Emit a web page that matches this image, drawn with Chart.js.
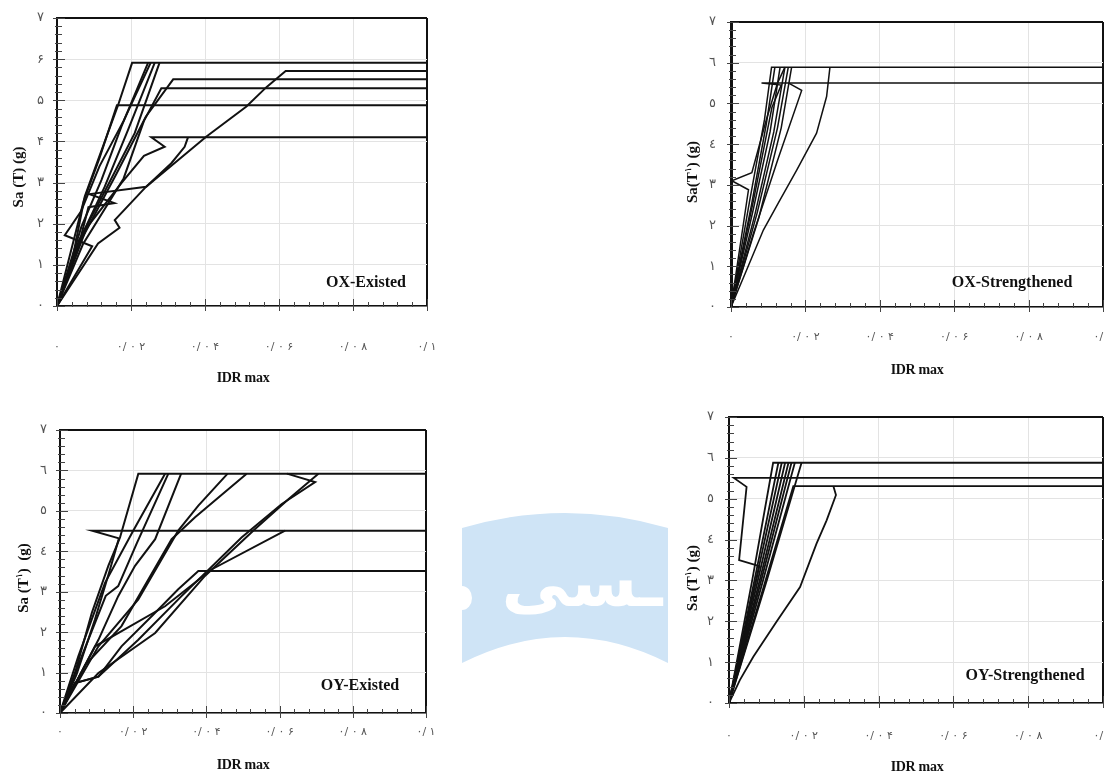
<!DOCTYPE html>
<html lang="fa">
<head>
<meta charset="UTF-8">
<title>IDA - Sa / IDR max</title>
<script src="https://cdn.jsdelivr.net/npm/chart.js"></script>
<style>
  body { margin: 0; background: #fff; width: 1104px; height: 775px; position: relative; overflow: hidden; font-family: 'Liberation Serif', 'Times New Roman', serif; }
  canvas { position: absolute; }
  .marca { position: absolute; left: 0; top: 0; }
  .rotulo { position: absolute; font-weight: bold; font-size: 16px; color: #111; white-space: nowrap; transform: translate(-50%, -50%); }
  .tituloX { position: absolute; font-weight: bold; font-size: 14px; color: #111; white-space: nowrap; transform: translate(-50%, -50%); letter-spacing: -0.3px; }
  .tituloY { position: absolute; font-weight: bold; font-size: 15px; color: #111; white-space: nowrap; transform: translate(-50%, -50%) rotate(-90deg); }
  .tituloY sup { font-size: 9px; }
</style>
</head>
<body>

<svg class="marca" width="1104" height="775">
  <path d="M462,528 Q565,498 668,528 L668,663 Q565,611 462,663 Z" fill="#cfe4f6"/>
  <ellipse cx="462" cy="598" rx="10" ry="12" fill="#fff"/>
  <text x="582" y="606" font-size="68" font-weight="bold" fill="#fff" text-anchor="middle" font-family="DejaVu Sans">ـسی</text>
</svg>

<canvas id="oxExisted" width="440" height="395" style="left:0;top:0"></canvas>
<canvas id="oxStrengthened" width="444" height="390" style="left:660px;top:0"></canvas>
<canvas id="oyExisted" width="440" height="375" style="left:0;top:400px"></canvas>
<canvas id="oyStrengthened" width="444" height="375" style="left:660px;top:400px"></canvas>

<div class="rotulo" style="left:366px;top:282px">OX-Existed</div>
<div class="rotulo" style="left:1012px;top:282px">OX-Strengthened</div>
<div class="rotulo" style="left:360px;top:685px">OY-Existed</div>
<div class="rotulo" style="left:1025px;top:675px">OY-Strengthened</div>

<div class="tituloX" style="left:243px;top:378px">IDR max</div>
<div class="tituloX" style="left:917px;top:370px">IDR max</div>
<div class="tituloX" style="left:243px;top:765px">IDR max</div>
<div class="tituloX" style="left:917px;top:767px">IDR max</div>

<div class="tituloY" style="left:18px;top:177px">Sa (T) (g)</div>
<div class="tituloY" style="left:692px;top:172px">Sa(T<sup>١</sup>) (g)</div>
<div class="tituloY" style="left:23px;top:578px">Sa (T<sup>١</sup>)&nbsp; (g)</div>
<div class="tituloY" style="left:692px;top:578px">Sa (T<sup>١</sup>) (g)</div>

<script>
// eixos
const idrTicks = [0, 0.02, 0.04, 0.06, 0.08, 0.1];
const saTicks = [0, 1, 2, 3, 4, 5, 6, 7];
const xTickLabels = ['۰', '۰/ ۰ ۲', '۰/ ۰ ۴', '۰/ ۰ ۶', '۰/ ۰ ۸', '۰/ ۱'];
const yTicksFa = ['۰', '۱', '۲', '۳', '۴', '۵', '۶', '۷'];
const yTicksAr = ['٠', '١', '٢', '٣', '٤', '٥', '٦', '٧'];

// OX - Existed
const oxExistedIdr = [
    [0, 0.0034, 0.0075, 0.0111, 0.0165, 0.0203, 0.1],
    [0, 0.0072, 0.0115, 0.0162, 0.1],
    [0, 0.0066, 0.012, 0.0174, 0.0246],
    [0, 0.0057, 0.0129, 0.0192, 0.0264],
    [0, 0.006, 0.013, 0.021, 0.0277],
    [0, 0.0065, 0.016, 0.024, 0.0305, 0.0314, 0.1],
    [0, 0.007, 0.018, 0.0235, 0.0282, 0.1],
    [0, 0.008, 0.0175, 0.0235, 0.0291, 0.0255, 0.1],
    [0, 0.0065, 0.0085, 0.0155, 0.0088, 0.0241, 0.0309, 0.0345, 0.0354],
    [0, 0.0111, 0.0169, 0.0156, 0.0241, 0.0404, 0.0512, 0.0566, 0.0618, 0.1],
    [0, 0.0095, 0.0021, 0.0065, 0.0115, 0.018, 0.0253]
];
const oxExistedSa = [
    [0, 0.79, 2.66, 3.55, 4.88, 5.91, 5.91],
    [0, 2.55, 3.6, 4.88, 4.88],
    [0, 1.93, 3.06, 4.36, 5.91],
    [0, 1.52, 2.9, 4.28, 5.91],
    [0, 1.6, 2.8, 4.2, 5.91],
    [0, 1.6, 3.2, 4.6, 5.4, 5.51, 5.51],
    [0, 1.5, 3.1, 4.5, 5.29, 5.29],
    [0, 1.9, 3.0, 3.65, 3.87, 4.10, 4.10],
    [0, 1.7, 2.4, 2.5, 2.72, 2.9, 3.47, 3.87, 4.10],
    [0, 1.52, 1.9, 2.09, 2.9, 4.12, 4.85, 5.32, 5.71, 5.71],
    [0, 1.45, 1.72, 2.3, 3.4, 4.5, 5.91]
];

// OX - Strengthened
const oxStrengthenedIdr = [
    [0, 0.005, 0.009, 0.0109, 0.1],
    [0, 0.0055, 0.0095, 0.0118],
    [0, 0.006, 0.0105, 0.0132],
    [0, 0.0065, 0.0115, 0.0145],
    [0, 0.007, 0.0125, 0.0154],
    [0, 0.0075, 0.0135, 0.0163],
    [0, 0.006, 0.011, 0.0135, 0.0082, 0.1],
    [0, 0.0047, 0.0002, 0.0056, 0.0095, 0.0125, 0.0145],
    [0, 0.006, 0.0125, 0.019, 0.0155],
    [0, 0.0042, 0.0087, 0.0127, 0.0177, 0.023, 0.0257, 0.0266]
];
const oxStrengthenedSa = [
    [0, 2.6, 4.6, 5.89, 5.89],
    [0, 2.5, 4.5, 5.89],
    [0, 2.4, 4.3, 5.89],
    [0, 2.3, 4.3, 5.89],
    [0, 2.3, 4.4, 5.89],
    [0, 2.2, 4.4, 5.89],
    [0, 2.6, 4.9, 5.45, 5.50, 5.50],
    [0, 2.88, 3.10, 3.30, 4.6, 5.5, 5.89],
    [0, 1.8, 3.6, 5.32, 5.50],
    [0, 0.91, 1.89, 2.55, 3.37, 4.27, 5.17, 5.89]
];

// OY - Existed
const oyExistedIdr = [
    [0, 0.0041, 0.0087, 0.0132, 0.0164, 0.0214, 0.1],
    [0, 0.0045, 0.0095, 0.0135, 0.0161, 0.0088, 0.1],
    [0, 0.005, 0.0123, 0.02, 0.0287],
    [0, 0.0055, 0.0125, 0.0159, 0.021, 0.0296],
    [0, 0.0105, 0.0159, 0.0205, 0.026, 0.0331],
    [0, 0.0105, 0.0214, 0.0323, 0.0378, 0.0458],
    [0, 0.007, 0.0168, 0.0305, 0.0369, 0.051],
    [0, 0.0105, 0.026, 0.0396, 0.0533, 0.0624, 0.0706],
    [0, 0.0041, 0.0105, 0.0214, 0.0332, 0.0496, 0.0606, 0.0697, 0.062],
    [0, 0.0096, 0.0287, 0.0414, 0.0615],
    [0, 0.0041, 0.0105, 0.0168, 0.026, 0.0323, 0.0378, 0.1]
];
const oyExistedSa = [
    [0, 0.99, 2.48, 3.64, 4.34, 5.92, 5.92],
    [0, 0.95, 2.3, 3.5, 4.32, 4.51, 4.51],
    [0, 1.4, 3.22, 4.51, 5.92],
    [0, 1.3, 2.9, 3.14, 4.2, 5.92],
    [0, 1.81, 2.89, 3.64, 4.3, 5.92],
    [0, 1.65, 2.81, 4.51, 5.13, 5.92],
    [0, 1.2, 2.15, 4.3, 4.84, 5.92],
    [0, 0.99, 1.98, 3.39, 4.55, 5.29, 5.92],
    [0, 0.74, 0.9, 1.81, 2.89, 4.34, 5.17, 5.71, 5.92],
    [0, 1.65, 2.64, 3.55, 4.51],
    [0, 0.74, 0.9, 1.65, 2.48, 3.06, 3.51, 3.51]
];

// OY - Strengthened
const oyStrengthenedIdr = [
    [0, 0.0062, 0.0118, 0.1],
    [0, 0.0068, 0.0132],
    [0, 0.0072, 0.0141],
    [0, 0.0077, 0.015],
    [0, 0.0082, 0.0159],
    [0, 0.0086, 0.0167],
    [0, 0.0091, 0.0176],
    [0, 0.0101, 0.0194],
    [0, 0.0081, 0.0027, 0.0047, 0.0013, 0.1],
    [0, 0.0088, 0.0172, 0.1],
    [0, 0.0029, 0.0065, 0.0127, 0.019, 0.0234, 0.0261, 0.0286, 0.0279]
];
const oyStrengthenedSa = [
    [0, 3.0, 5.88, 5.88],
    [0, 3.0, 5.88],
    [0, 3.0, 5.88],
    [0, 3.0, 5.88],
    [0, 3.0, 5.88],
    [0, 3.0, 5.88],
    [0, 3.0, 5.88],
    [0, 3.0, 5.88],
    [0, 3.35, 3.5, 5.29, 5.51, 5.51],
    [0, 2.7, 5.31, 5.31],
    [0, 0.56, 1.13, 1.99, 2.84, 3.9, 4.47, 5.09, 5.31]
];

// tracinhos menores nos eixos
const tickMenor = {
    id: 'tickMenor',
    afterDraw(chart) {
        const { ctx, scales: { x, y } } = chart;
        ctx.save();
        ctx.strokeStyle = '#444';
        ctx.lineWidth = 1;
        ctx.beginPath();
        for (let i = 0; i <= 35; i++) {
            const py = Math.round(y.getPixelForValue(i * 0.2)) + 0.5;
            const major = i % 5 === 0;
            ctx.moveTo(y.right - (major ? 4 : 2), py);
            ctx.lineTo(y.right + (major ? 8 : 5), py);
        }
        for (let i = 0; i <= 25; i++) {
            const px = Math.round(x.getPixelForValue(i * 0.004)) + 0.5;
            const major = i % 5 === 0;
            ctx.moveTo(px, x.top + (major ? 5 : 1));
            ctx.lineTo(px, x.top - (major ? 7 : 4));
        }
        ctx.stroke();
        ctx.restore();
    }
};

const paineis = [
    { id: 'oxExisted', idr: oxExistedIdr, sa: oxExistedSa, yLabels: yTicksFa, yW: 57, xH: 89, padTop: 18, padRight: 13, xPad: 35, yPad: 13, lw: 2, eixo: 2 },
    { id: 'oxStrengthened', idr: oxStrengthenedIdr, sa: oxStrengthenedSa, yLabels: yTicksAr, yW: 71, xH: 83, padTop: 22, padRight: 1, xPad: 24, yPad: 15, lw: 1.5, eixo: 3 },
    { id: 'oyExisted', idr: oyExistedIdr, sa: oyExistedSa, yLabels: yTicksAr, yW: 60, xH: 62, padTop: 30, padRight: 14, xPad: 13, yPad: 13, lw: 2, eixo: 2 },
    { id: 'oyStrengthened', idr: oyStrengthenedIdr, sa: oyStrengthenedSa, yLabels: yTicksAr, yW: 69, xH: 72, padTop: 17, padRight: 1, xPad: 27, yPad: 15, lw: 1.8, eixo: 2 }
];

paineis.forEach(p => {
    const datasets = p.idr.map((xs, i) => ({
        data: xs.map((v, j) => ({ x: v, y: p.sa[i][j] })),
        showLine: true,
        borderColor: '#111',
        borderWidth: p.lw,
        pointRadius: 0,
        tension: 0,
        fill: false
    }));

    new Chart(document.getElementById(p.id), {
        type: 'scatter',
        data: { datasets: datasets },
        options: {
            responsive: false,
            animation: false,
            events: [],
            layout: { padding: { top: p.padTop, right: p.padRight, left: 0, bottom: 0 } },
            plugins: { legend: { display: false }, tooltip: { enabled: false } },
            scales: {
                x: {
                    type: 'linear',
                    min: 0,
                    max: 0.1,
                    afterBuildTicks: s => { s.ticks = idrTicks.map(v => ({ value: v })); },
                    afterFit: s => { s.height = p.xH; s.paddingLeft = 0; s.paddingRight = 0; },
                    ticks: {
                        padding: p.xPad,
                        autoSkip: false,
                        maxRotation: 0,
                        color: '#555',
                        font: { family: 'DejaVu Sans', size: 11 },
                        callback: (v, i) => xTickLabels[i]
                    },
                    grid: {
                        drawTicks: false,
                        color: c => c.index === idrTicks.length - 1 ? '#111' : '#e3e3e3',
                        lineWidth: c => c.index === idrTicks.length - 1 ? 2 : 1
                    },
                    border: { color: '#111', width: 1.5 }
                },
                y: {
                    type: 'linear',
                    min: 0,
                    max: 7,
                    afterBuildTicks: s => { s.ticks = saTicks.map(v => ({ value: v })); },
                    afterFit: s => { s.width = p.yW; s.paddingTop = 0; s.paddingBottom = 0; },
                    ticks: {
                        padding: p.yPad,
                        color: '#555',
                        font: { family: 'DejaVu Sans', size: 13 },
                        callback: (v, i) => p.yLabels[i]
                    },
                    grid: {
                        drawTicks: false,
                        color: c => c.index === saTicks.length - 1 ? '#111' : '#e3e3e3',
                        lineWidth: c => c.index === saTicks.length - 1 ? 2 : 1
                    },
                    border: { color: '#111', width: p.eixo }
                }
            }
        },
        plugins: [tickMenor]
    });
});
</script>
</body>
</html>
